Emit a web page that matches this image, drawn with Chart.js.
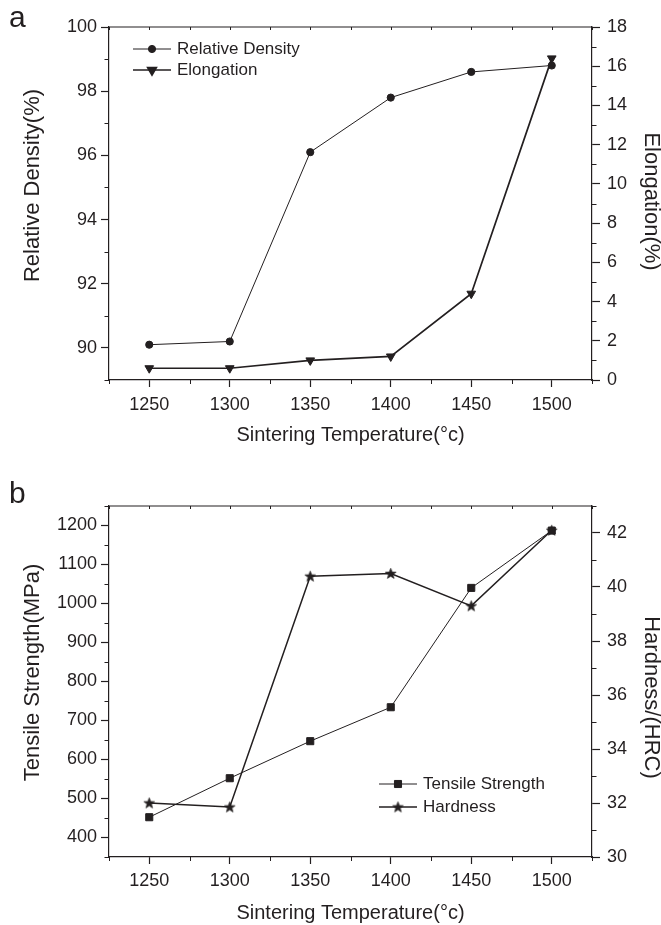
<!DOCTYPE html>
<html><head><meta charset="utf-8">
<script src="https://cdn.jsdelivr.net/npm/chart.js@4.4.1/dist/chart.umd.min.js"></script>
<style>
html,body{margin:0;padding:0;background:#fff;}
#wrap{position:relative;width:661px;height:925px;background:#fff;}
canvas{position:absolute;left:0;display:block;}
</style></head><body>
<div id="wrap">
<canvas id="ca" width="661" height="462" style="top:0"></canvas>
<canvas id="cb" width="661" height="463" style="top:462px"></canvas>
</div>
<script>
// ---------------- data ----------------
const temperatures = [1250, 1300, 1350, 1400, 1450, 1500];
const relativeDensity = [90.1, 90.2, 96.1, 97.8, 98.6, 98.8];      // %
const elongation = [0.6, 0.6, 1.0, 1.2, 4.4, 16.4];                 // %
const tensileStrength = [452, 552, 647, 734, 1040, 1187];           // MPa
const hardness = [32.0, 31.85, 40.4, 40.5, 39.3, 42.1];             // HRC
const xTickLabels = ['1250', '1300', '1350', '1400', '1450', '1500'];
const densityTickLabels = ['90', '92', '94', '96', '98', '100'];
const elongationTickLabels = ['0', '2', '4', '6', '8', '10', '12', '14', '16', '18'];
const strengthTickLabels = ['400', '500', '600', '700', '800', '900', '1000', '1100', '1200'];
const hardnessTickLabels = ['30', '32', '34', '36', '38', '40', '42'];

// ---------------- style ----------------
const INK = '#231f20';
const FAMILY = "'Liberation Sans', Arial, Helvetica, sans-serif";

function pts(xs, ys) { return xs.map((x, i) => ({ x: x, y: ys[i] })); }

function makeStar(R, r) {
  const size = Math.ceil(2 * R + 3);
  const c = document.createElement('canvas');
  c.width = size; c.height = size;
  const g = c.getContext('2d');
  const cx = size / 2, cy = size / 2 + 0.4;
  g.beginPath();
  for (let i = 0; i < 10; i++) {
    const a = -Math.PI / 2 + i * Math.PI / 5;
    const rad = i % 2 === 0 ? R : r;
    g.lineTo(cx + rad * Math.cos(a), cy + rad * Math.sin(a));
  }
  g.closePath();
  g.fillStyle = INK; g.fill();
  g.strokeStyle = INK; g.lineWidth = 0.7; g.stroke();
  return c;
}
const starImg = makeStar(5.6, 2.3);

function labelCallback(list) {
  return function (v) { const s = String(v); return list.includes(s) ? s : ''; };
}
function majorColor(list) {
  return function (c) { return (c.tick && list.includes(String(c.tick.value))) ? INK : 'rgba(0,0,0,0)'; };
}

function yAxis(o) {
  return {
    type: 'linear', position: o.position, min: o.min, max: o.max,
    afterFit: function (s) { s.width = o.width; },
    ticks: {
      stepSize: o.step, autoSkip: false, color: INK, padding: o.pad,
      font: { family: FAMILY, size: 18 }, callback: labelCallback(o.labels)
    },
    grid: { display: true, drawOnChartArea: false, drawTicks: true, tickLength: o.tickLength,
            tickWidth: 1.2, tickColor: majorColor(o.labels) },
    border: { display: true, color: INK, width: 1.2 },
    title: { display: false, text: o.title }
  };
}
function xAxis(o) {
  return {
    type: 'linear', position: 'bottom', min: 1225, max: 1525,
    afterFit: function (s) { s.height = o.height; },
    ticks: {
      stepSize: 25, autoSkip: false, maxRotation: 0, color: INK, padding: o.pad,
      font: { family: FAMILY, size: 18 }, callback: labelCallback(xTickLabels)
    },
    grid: { display: true, drawOnChartArea: false, drawTicks: true, tickLength: 7,
            tickWidth: 1.2, tickColor: majorColor(xTickLabels) },
    border: { display: true, color: INK, width: 1.2 },
    title: { display: true, text: 'Sintering Temperature(°c)', color: INK,
             font: { family: FAMILY, size: 20, lineHeight: 1 }, padding: { top: 0, bottom: o.titlePad } }
  };
}

// frame: top border, minor ticks, inward top ticks, y titles, panel letter, legend
const decor = {
  id: 'decor',
  afterDraw(chart, args, opts) {
    const ctx = chart.ctx, a = chart.chartArea;
    ctx.save();
    ctx.strokeStyle = INK; ctx.lineWidth = 1.2;
    ctx.beginPath(); ctx.moveTo(a.left - 0.6, a.top); ctx.lineTo(a.right + 0.6, a.top); ctx.stroke();
    ctx.lineWidth = 1;
    Object.keys(opts.minor).forEach(id => {
      const s = chart.scales[id]; const m = opts.minor[id];
      s.ticks.forEach(t => {
        const p = Math.round(s.getPixelForValue(t.value)) + 0.5;
        const major = m.labels.includes(String(t.value));
        ctx.beginPath();
        if (s.position === 'bottom') {
          if (!major) { ctx.moveTo(p, a.bottom); ctx.lineTo(p, a.bottom + 4); }
          ctx.moveTo(p, a.top); ctx.lineTo(p, a.top + 3);
        } else if (s.position === 'left') {
          if (!major) { ctx.moveTo(a.left - 4.5, p); ctx.lineTo(a.left, p); }
        } else {
          if (!major) { ctx.moveTo(a.right, p); ctx.lineTo(a.right + 4.5, p); }
        }
        ctx.stroke();
      });
    });
    // y-axis titles (text taken from the scale options)
    ctx.fillStyle = INK;
    ctx.font = '22px ' + FAMILY;
    ctx.textAlign = 'center'; ctx.textBaseline = 'middle';
    opts.titles.forEach(T => {
      const s = chart.scales[T.id];
      const cy = (a.top + a.bottom) / 2 + T.shift;
      ctx.save();
      ctx.translate(T.x, cy);
      ctx.rotate(s.position === 'left' ? -Math.PI / 2 : Math.PI / 2);
      ctx.fillText(s.options.title.text, 0, 0);
      ctx.restore();
    });
    // panel letter
    ctx.font = '30px ' + FAMILY;
    ctx.textBaseline = 'alphabetic'; ctx.textAlign = 'left';
    ctx.fillText(opts.panel.text, opts.panel.x, opts.panel.y);
    // legend
    const L = opts.legend;
    ctx.font = '17px ' + FAMILY;
    ctx.textBaseline = 'middle';
    L.rows.forEach((y, i) => {
      const ds = chart.data.datasets[i];
      ctx.strokeStyle = INK; ctx.lineWidth = ds.borderWidth;
      ctx.beginPath(); ctx.moveTo(L.x0, y); ctx.lineTo(L.x1, y); ctx.stroke();
      ctx.fillStyle = INK; ctx.strokeStyle = INK;
      Chart.helpers.drawPoint(ctx, { pointStyle: ds.pointStyle, radius: ds.pointRadius,
        rotation: ds.pointRotation || 0, borderWidth: ds.pointBorderWidth }, (L.x0 + L.x1) / 2, y);
      ctx.fillStyle = INK;
      ctx.fillText(ds.label, L.tx, y + 0.5);
    });
    ctx.restore();
  }
};

function lineDs(label, data, axis, style, radius, width, rot) {
  return {
    label: label, data: data, yAxisID: axis,
    borderColor: INK, backgroundColor: INK, borderWidth: width,
    pointStyle: style, pointRadius: radius, pointHoverRadius: radius, pointRotation: rot || 0,
    pointBackgroundColor: INK, pointBorderColor: INK, pointBorderWidth: 1,
    tension: 0, fill: false, clip: false
  };
}

// ---------------- chart a ----------------
new Chart(document.getElementById('ca'), {
  type: 'line',
  data: {
    datasets: [
      lineDs('Relative Density', pts(temperatures, relativeDensity), 'yL', 'circle', 3.6, 1, 0),
      lineDs('Elongation', pts(temperatures, elongation), 'yR', 'triangle', 5, 1.7, 180)
    ]
  },
  options: {
    responsive: false, animation: false, events: [],
    layout: { padding: { top: 27, left: 0, right: 0, bottom: 0 } },
    plugins: {
      legend: { display: false }, tooltip: { enabled: false },
      decor: {
        minor: { x: { labels: xTickLabels }, yL: { labels: densityTickLabels }, yR: { labels: elongationTickLabels } },
        titles: [ { id: 'yL', x: 33, shift: -18 }, { id: 'yR', x: 651, shift: -2 } ],
        panel: { text: 'a', x: 9, y: 27 },
        legend: { rows: [49, 70], x0: 133, x1: 171, tx: 177 }
      }
    },
    scales: {
      x: xAxis({ height: 82, pad: 7, titlePad: 17 }),
      yL: yAxis({ position: 'left', min: 89, max: 100, step: 1, labels: densityTickLabels, width: 109,
                  pad: 4, tickLength: 8, title: 'Relative Density(%)' }),
      yR: yAxis({ position: 'right', min: 0, max: 18, step: 1, labels: elongationTickLabels, width: 69,
                  pad: 7, tickLength: 8, title: 'Elongation(%)' })
    }
  },
  plugins: [decor]
});

// ---------------- chart b ----------------
new Chart(document.getElementById('cb'), {
  type: 'line',
  data: {
    datasets: [
      lineDs('Tensile Strength', pts(temperatures, tensileStrength), 'yL', 'rect', 5, 1, 0),
      lineDs('Hardness', pts(temperatures, hardness), 'yR', starImg, 5, 1.5, 0)
    ]
  },
  options: {
    responsive: false, animation: false, events: [],
    layout: { padding: { top: 44, left: 0, right: 0, bottom: 0 } },
    plugins: {
      legend: { display: false }, tooltip: { enabled: false },
      decor: {
        minor: { x: { labels: xTickLabels }, yL: { labels: strengthTickLabels }, yR: { labels: hardnessTickLabels } },
        titles: [ { id: 'yL', x: 33, shift: -9 }, { id: 'yR', x: 651, shift: 16 } ],
        panel: { text: 'b', x: 9, y: 41 },
        legend: { rows: [322, 345], x0: 379, x1: 417, tx: 423 }
      }
    },
    scales: {
      x: xAxis({ height: 68, pad: 6, titlePad: 2 }),
      yL: yAxis({ position: 'left', min: 350, max: 1250, step: 50, labels: strengthTickLabels, width: 109,
                  pad: 4, tickLength: 8, title: 'Tensile Strength(MPa)' }),
      yR: yAxis({ position: 'right', min: 30, max: 43, step: 1, labels: hardnessTickLabels, width: 69,
                  pad: 7, tickLength: 8, title: 'Hardness/(HRC)' })
    }
  },
  plugins: [decor]
});
</script>
</body></html>
